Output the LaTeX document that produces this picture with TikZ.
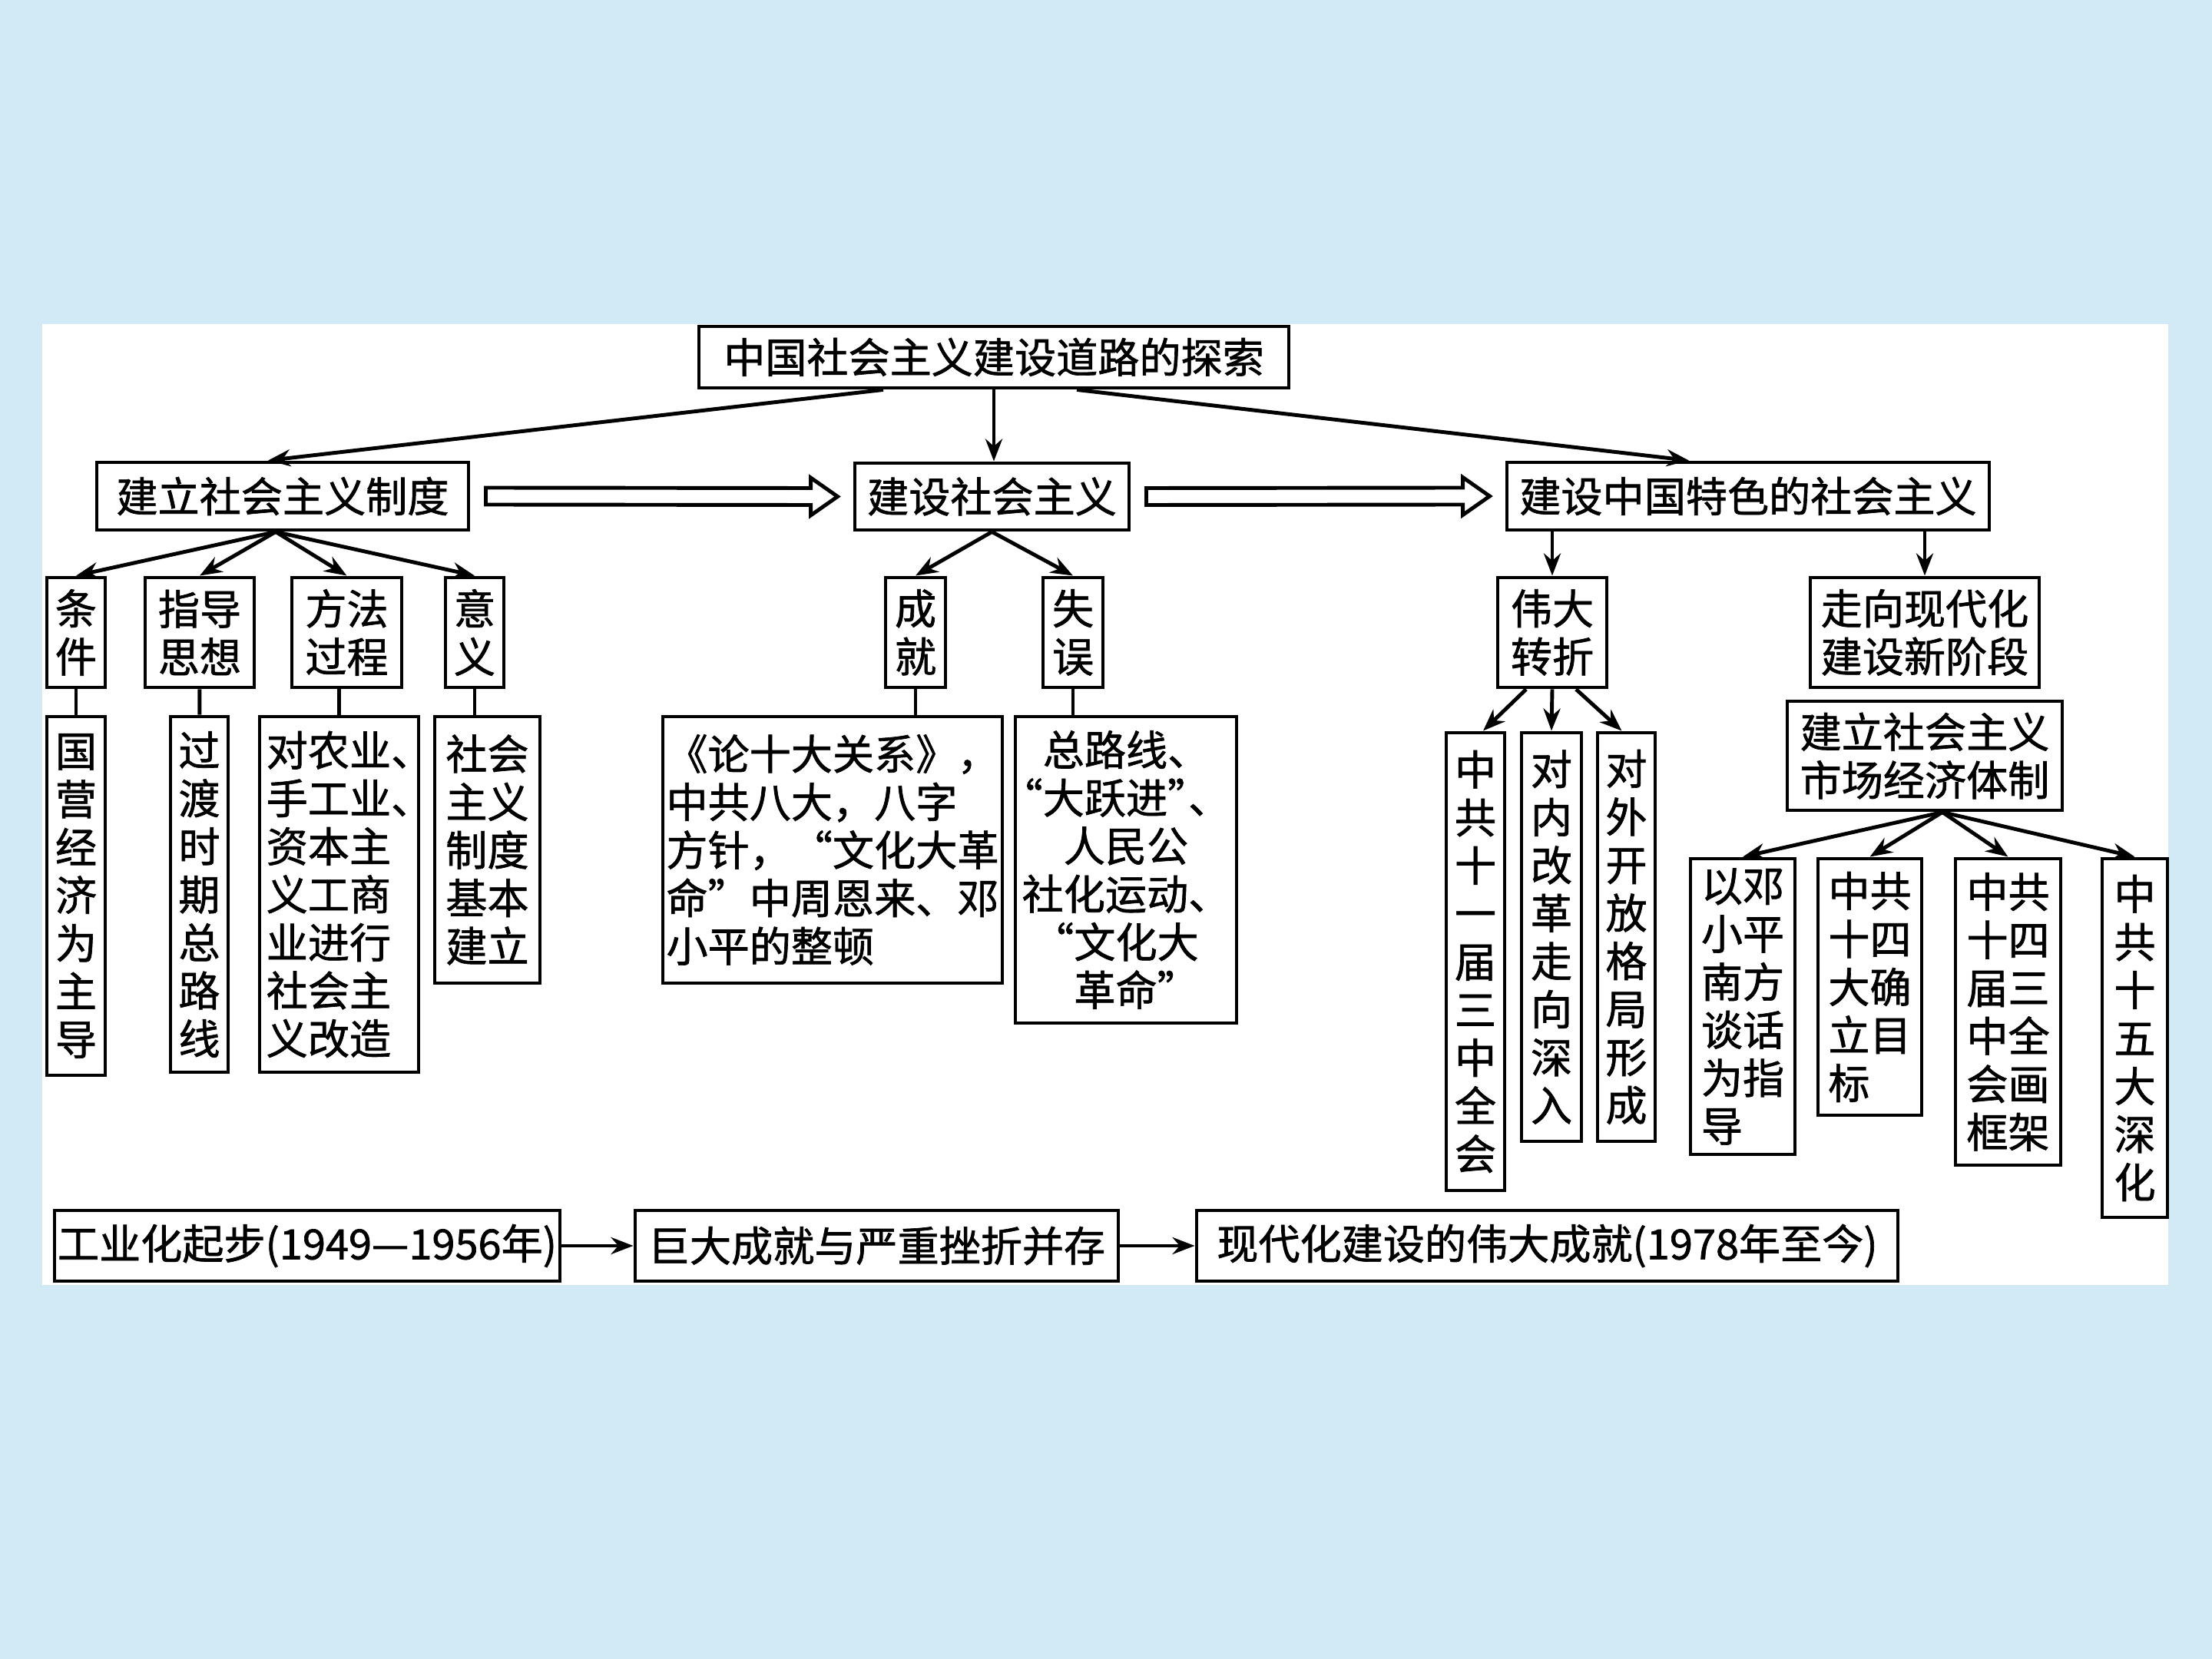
\documentclass[tikz,border=0pt]{standalone}
\usepackage{fontspec}
\setmainfont{Noto Sans CJK SC}[FakeBold=1.2]
\usetikzlibrary{arrows.meta, calc}

\definecolor{dibu}{RGB}{210,234,246}

% 空心箭头 #1 -> #2
\newcommand{\kongjiantou}[2]{%
  \draw[line join=miter] ($(#1.east)+(0.2,0.11)$) -- ($(#2.west)+(-0.55,0.11)$)
    -- ++(0,0.135) -- ($(#2.west)+(-0.2,0)$) -- ($(#2.west)+(-0.55,-0.245)$)
    -- ++(0,0.135) -- ($(#1.east)+(0.2,-0.11)$) -- cycle;}
% 窄引号
\newcommand{\zuoyin}{\kern-0.5em“}
\newcommand{\youyin}{”\kern-0.5em}

\begin{document}
\begin{tikzpicture}[>={Stealth[length=2.9mm, width=2.2mm]}, line width=1.4pt,
  kuang/.style 2 args={draw, minimum width=#1cm, minimum height=#2cm, inner sep=1pt,
    align=center, font=\fontsize{15.4}{17.8}\selectfont}]
  % 背景
  \fill[dibu] (0,0) rectangle (28.8,-21.6);
  \fill[white] (0.55,-4.22) rectangle (28.23,-16.73);
  \useasboundingbox (0,0) rectangle (28.8,-21.6);
  % 第一层
  \node[kuang={7.68}{0.80}] (tansuo) at (12.94,-4.65) {中国社会主义建设道路的探索};
  \node[kuang={4.84}{0.88}] (zhidu) at (3.68,-6.46) {建立社会主义制度};
  \node[kuang={3.57}{0.87}] (jianshe) at (12.915,-6.465) {建设社会主义};
  \node[kuang={6.28}{0.88}] (tese) at (22.76,-6.46) {建设中国特色的社会主义};
  \draw[->] ($(tansuo.south)+(-1.44,0)$) -- ($(zhidu.north)+(-0.19,0)$);
  \draw[->] (tansuo.south) -- (tansuo.south |- jianshe.north);
  \draw[->] ($(tansuo.south)+(1.08,0)$) -- ($(tese.north)+(-0.77,0)$);
  \kongjiantou{zhidu}{jianshe}
  \kongjiantou{jianshe}{tese}
  % 建立社会主义制度
  \node[kuang={0.76}{1.43}] (tiaojian) at (0.99,-8.235) {条\\件};
  \node[kuang={1.42}{1.43}] (sixiang) at (2.60,-8.235) {指导\\思想};
  \node[kuang={1.43}{1.43}] (fangfa) at (4.515,-8.235) {方法\\过程};
  \node[kuang={0.76}{1.43}] (yiyi) at (6.18,-8.235) {意\\义};
  \node[kuang={0.76}{4.67}] (guoying) at (0.99,-11.665) {国\\营\\经\\济\\为\\主\\导};
  \node[kuang={0.75}{4.63}] (zonglu) at (2.595,-11.645) {过\\渡\\时\\期\\总\\路\\线};
  \node[kuang={2.07}{4.63}, align=left] (gaizao) at (4.415,-11.645)
    {对农业、\kern-0.5em\\手工业、\kern-0.5em\\资本主\\义工商\\业进行\\社会主\\义改造};
  \node[kuang={1.37}{3.47}] (jianli) at (6.345,-11.065) {社会\\主义\\制度\\基本\\建立};
  \foreach \n in {tiaojian, sixiang, fangfa, yiyi}
    \draw[->] ($(zhidu.south)+(-0.09,0)$) -- (\n.north);
  \draw (tiaojian) -- (guoying);
  \draw (sixiang) -- (zonglu);
  \draw (gaizao.north |- fangfa.south) -- (gaizao.north);
  \draw (yiyi.south) -- (yiyi.south |- jianli.north);
  % 建设社会主义
  \node[kuang={0.78}{1.43}] (chengjiu) at (11.92,-8.235) {成\\就};
  \node[kuang={0.78}{1.43}] (shiwu) at (13.97,-8.235) {失\\误};
  \node[kuang={4.42}{3.47}, align=left] (shida) at (10.84,-11.065)
    {《论十大关系》，\\中共八大，八字\\方针，“文化大革\\命”中周恩来、邓\\小平的整顿};
  \node[kuang={2.88}{3.99}] (yuejin) at (14.66,-11.325)
    {总路线、\\\zuoyin 大跃进\youyin 、\\人民公\\社化运动、\\\zuoyin 文化大\\革命\youyin};
  \foreach \n in {chengjiu, shiwu}
    \draw[->] (jianshe.south) -- (\n.north);
  \draw (chengjiu.south) -- (chengjiu.south |- shida.north);
  \draw (shiwu.south) -- (shiwu.south |- yuejin.north);
  % 建设中国特色的社会主义
  \node[kuang={1.42}{1.43}] (zhuanzhe) at (20.21,-8.235) {伟大\\转折};
  \node[kuang={2.98}{1.43}] (jieduan) at (25.06,-8.235) {走向现代化\\建设新阶段};
  \node[kuang={3.58}{1.42}] (shichang) at (25.06,-9.84) {建立社会主义\\市场经济体制};
  \node[kuang={0.76}{5.96}] (sanzhong) at (19.21,-12.52) {中\\共\\十\\一\\届\\三\\中\\全\\会};
  \node[kuang={0.78}{5.32}] (duinei) at (20.20,-12.20) {对\\内\\改\\革\\走\\向\\深\\入};
  \node[kuang={0.75}{5.32}] (duiwai) at (21.175,-12.20) {对\\外\\开\\放\\格\\局\\形\\成};
  \node[kuang={1.36}{3.85}, align=left] (nanfang) at (22.69,-13.105) {以邓\\小平\\南方\\谈话\\为指\\导};
  \node[kuang={1.35}{3.34}, align=left] (shisida) at (24.345,-12.85) {中共\\十四\\大确\\立目\\标};
  \node[kuang={1.37}{3.99}] (kuangjia) at (26.145,-13.175) {中共\\十四\\届三\\中全\\会画\\框架};
  \node[kuang={0.85}{4.67}] (shiwuda) at (27.795,-13.515) {中\\共\\十\\五\\大\\深\\化};
  \draw[->] (zhuanzhe.north |- tese.south) -- (zhuanzhe.north);
  \draw[->] (jieduan.north |- tese.south) -- (jieduan.north);
  \draw[->] ($(zhuanzhe.south)+(-0.34,0)$) -- ($(sanzhong.north)+(0.1,0)$);
  \draw[->] (zhuanzhe.south) -- (duinei.north);
  \draw[->] ($(zhuanzhe.south)+(0.31,0)$) -- ($(duiwai.north)+(-0.06,0)$);
  \foreach \n in {nanfang, shisida, kuangjia, shiwuda}
    \draw[->] ($(shichang.south)+(0.23,0)$) -- (\n.north);
  % 三个阶段
  \node[kuang={6.58}{0.92}] (qibu) at (4.00,-16.22) {工业化起步(1949—1956年)};
  \node[kuang={6.29}{0.92}] (cuozhe) at (11.415,-16.22) {巨大成就与严重挫折并存};
  \node[kuang={9.13}{0.92}] (xiandai) at (20.145,-16.22) {现代化建设的伟大成就(1978年至今)};
  \draw[->] (qibu) -- (cuozhe);
  \draw[->] (cuozhe) -- (xiandai);
\end{tikzpicture}
\end{document}
